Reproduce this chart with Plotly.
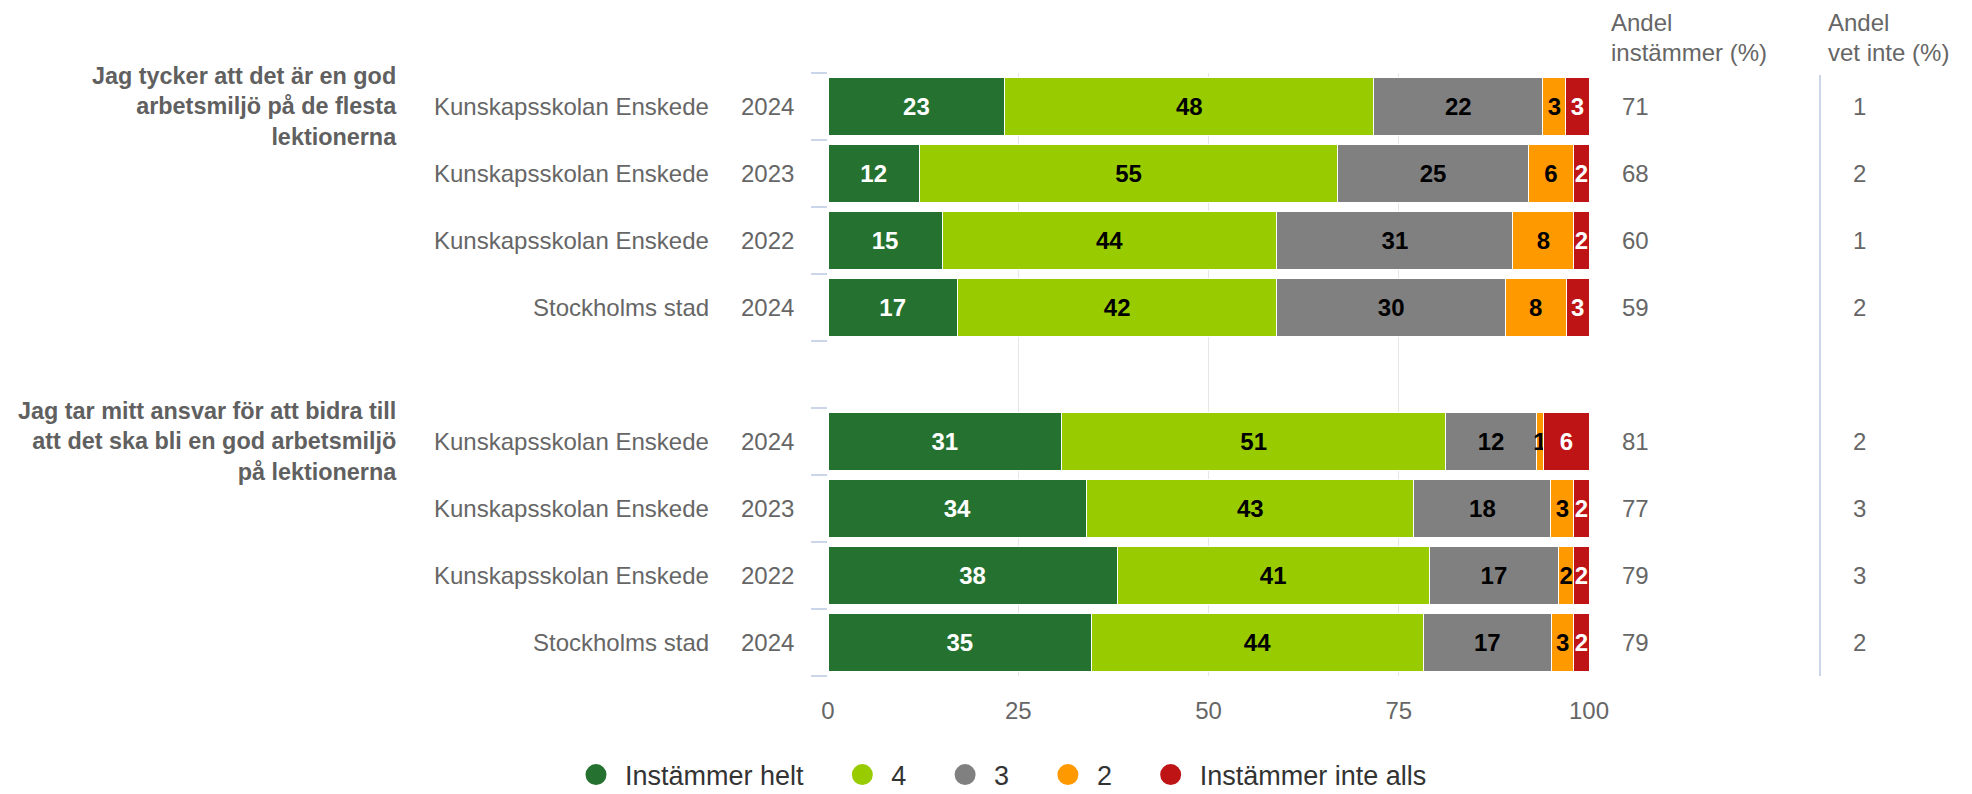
import plotly.graph_objects as go

# ---------------- data ----------------
questions = [
    "Jag tycker att det är en god<br>arbetsmiljö på de flesta<br>lektionerna",
    "Jag tar mitt ansvar för att bidra till<br>att det ska bli en god arbetsmiljö<br>på lektionerna",
]
units = ["Kunskapsskolan Enskede", "Kunskapsskolan Enskede", "Kunskapsskolan Enskede", "Stockholms stad"]
years = ["2024", "2023", "2022", "2024"]

series_names = ["Instämmer helt", "4", "3", "2", "Instämmer inte alls"]
series_colors = ["#257230", "#99cc00", "#808080", "#ff9900", "#be1416"]
text_colors = ["#ffffff", "#000000", "#000000", "#000000", "#ffffff"]

# values per question, rows = units/years, columns = series
q1_values = [
    [23, 48, 22, 3, 3],
    [12, 55, 25, 6, 2],
    [15, 44, 31, 8, 2],
    [17, 42, 30, 8, 3],
]
q2_values = [
    [31, 51, 12, 1, 6],
    [34, 43, 18, 3, 2],
    [38, 41, 17, 2, 2],
    [35, 44, 17, 3, 2],
]
q1_andel_instammer = [71, 68, 60, 59]
q2_andel_instammer = [81, 77, 79, 79]
q1_vet_inte = [1, 2, 1, 2]
q2_vet_inte = [2, 3, 3, 2]

# ---------------- layout helpers ----------------
OFF = 8  # page body margin
W, H = 1972 - OFF, 794 - OFF
L, R, T, B = 828 - OFF, 1589 - OFF, 73 - OFF, 676 - OFF  # figure coords
pw, ph = R - L, B - T


def px_x(page_x):
    return (page_x - OFF - L) / pw


def px_y(page_y):
    return 1 - (page_y - OFF - T) / ph


all_values = [q1_values, q2_values]
andel = [q1_andel_instammer, q2_andel_instammer]
vet = [q1_vet_inte, q2_vet_inte]

fig = go.Figure()

FONT = "Liberation Sans, Arial, sans-serif"
FS = 24

for s, name in enumerate(series_names):
    xs, ys, ts = [], [], []
    for g in range(2):
        for i in range(4):
            xs.append(all_values[g][i][s])
            ys.append(g * 5 + i)
            ts.append(str(all_values[g][i][s]))
    fig.add_trace(go.Bar(
        x=xs, y=ys, orientation="h", name=name,
        marker=dict(color=series_colors[s], line=dict(color="#ffffff", width=1)),
        text=ts, textposition="inside", insidetextanchor="middle",
        textfont=dict(family=FONT, size=FS, color=text_colors[s], weight="bold"),
        width=0.86, showlegend=False, cliponaxis=False, hoverinfo="x+name",
    ))
    # legend entry with circle symbol
    fig.add_trace(go.Scatter(
        x=[None], y=[None], mode="markers", name=name + "\u00a0\u00a0\u00a0\u200a",
        marker=dict(color=series_colors[s], size=16, symbol="circle",
                    line=dict(color=series_colors[s], width=5)),
        showlegend=True,
    ))

annotations = []
gray = "#666666"
for g in range(2):
    annotations.append(dict(
        x=px_x(399), xref="paper", y=g * 5, yref="y", text="<b>" + questions[g] + "</b>",
        xanchor="right", yanchor="middle", align="right", showarrow=False,
        font=dict(family=FONT, size=23.4, color="#606060"),
    ))
    for i in range(4):
        yv = g * 5 + i
        annotations.append(dict(
            x=px_x(711), xref="paper", y=yv, yref="y", text=units[i],
            xanchor="right", yanchor="middle", showarrow=False,
            font=dict(family=FONT, size=FS, color=gray),
        ))
        annotations.append(dict(
            x=px_x(796), xref="paper", y=yv, yref="y", text=years[i],
            xanchor="right", yanchor="middle", showarrow=False,
            font=dict(family=FONT, size=FS, color=gray),
        ))
        annotations.append(dict(
            x=px_x(1620), xref="paper", y=yv, yref="y", text=str(andel[g][i]),
            xanchor="left", yanchor="middle", showarrow=False,
            font=dict(family=FONT, size=FS, color=gray),
        ))
        annotations.append(dict(
            x=px_x(1859), xref="paper", y=yv, yref="y", text=str(vet[g][i]),
            xanchor="center", yanchor="middle", showarrow=False,
            font=dict(family=FONT, size=FS, color=gray),
        ))

headers = [("Andel", "instämmer (%)", 1609), ("Andel", "vet inte (%)", 1826)]
for line1, line2, xp in headers:
    annotations.append(dict(
        x=px_x(xp), xref="paper", y=px_y(22), yref="paper", text=line1,
        xanchor="left", yanchor="middle", showarrow=False,
        font=dict(family=FONT, size=FS, color=gray),
    ))
    annotations.append(dict(
        x=px_x(xp), xref="paper", y=px_y(53), yref="paper", text=line2,
        xanchor="left", yanchor="middle", showarrow=False,
        font=dict(family=FONT, size=FS, color=gray),
    ))

shapes = [dict(
    type="line", xref="paper", yref="paper",
    x0=px_x(1820), x1=px_x(1820), y0=0, y1=px_y(75),
    line=dict(color="#ccd6eb", width=2),
)]

fig.update_layout(
    width=W, height=H,
    margin=dict(l=L, r=W - R, t=T, b=H - B, pad=0, autoexpand=False),
    barmode="stack", barnorm="percent",
    plot_bgcolor="#ffffff", paper_bgcolor="#ffffff",
    font=dict(family=FONT, color=gray),
    uniformtext=dict(minsize=FS, mode="show"),
    xaxis=dict(
        range=[0, 100], tickvals=[0, 25, 50, 75, 100], ticktext=["0", "25", "50", "75", "100"],
        showgrid=True, gridcolor="#e6e6e6", gridwidth=1, zeroline=False,
        showline=False, ticks="", tickfont=dict(family=FONT, size=FS, color=gray),
        ticklabelstandoff=18, automargin=False,
    ),
    yaxis=dict(
        range=[8.5, -0.5], tickmode="array",
        tickvals=[k - 0.5 for k in range(10)], ticktext=[""] * 10,
        ticks="outside", ticklen=16, tickwidth=2, tickcolor="#ccd6eb",
        showgrid=False, zeroline=False, showline=False, automargin=False,
    ),
    legend=dict(
        orientation="h", xref="paper", yref="paper",
        x=px_x(567), xanchor="left",
        y=px_y(775), yanchor="middle",
        font=dict(family=FONT, size=27, color="#333333"),
        itemsizing="trace", itemwidth=48, traceorder="normal",
    ),
    annotations=annotations,
    shapes=shapes,
    showlegend=True,
)

fig.write_html("out.html")
